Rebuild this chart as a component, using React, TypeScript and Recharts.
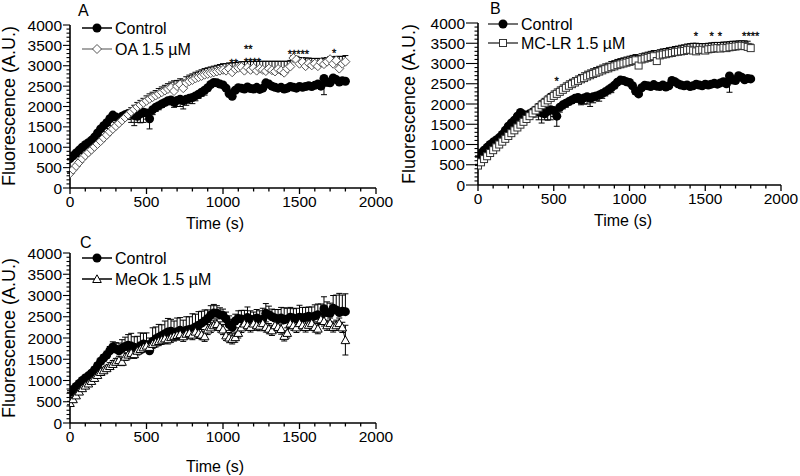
import React from "react";
import { ComposedChart, Line, Scatter, XAxis, YAxis, ErrorBar } from "recharts";

const FONT = "'Liberation Sans', Arial, Helvetica, sans-serif";

// sampling times (s)
const TIME = [
  0, 20, 40, 60, 80, 100, 120, 140, 160, 180,
  200, 220, 240, 260, 280, 300, 320, 340, 360, 380,
  400, 420, 440, 460, 480, 500, 520, 540, 560, 580,
  600, 620, 640, 660, 680, 700, 720, 740, 760, 780,
  800, 820, 840, 860, 880, 900, 920, 940, 960, 980,
  1000, 1020, 1040, 1060, 1080, 1100, 1120, 1140, 1160, 1180,
  1200, 1220, 1240, 1260, 1280, 1300, 1320, 1340, 1360, 1380,
  1400, 1420, 1440, 1460, 1480, 1500, 1520, 1540, 1560, 1580,
  1600, 1620, 1640, 1660, 1680, 1700, 1720, 1740, 1760, 1780,
  1800,
];

const CONTROL = [
  720, 790, 860, 930, 1000, 1060, 1110, 1170, 1250, 1350,
  1450, 1530, 1600, 1700, 1790, 1740, 1700, 1760, 1800, 1830,
  1810, 1780, 1760, 1820, 1860, 1840, 1700, 1920, 1980, 2020,
  2060, 2100, 2140, 2160, 2100, 2150, 2180, 2140, 2180, 2200,
  2220, 2260, 2300, 2350, 2400, 2460, 2540, 2590, 2580, 2550,
  2530, 2450, 2320, 2250, 2400, 2460, 2450, 2430, 2480, 2440,
  2430, 2470, 2420, 2450, 2580, 2550, 2500, 2470, 2450, 2470,
  2430, 2450, 2490, 2470, 2450, 2490, 2470, 2490, 2510, 2490,
  2520, 2550, 2500, 2690, 2600, 2580, 2700, 2660, 2600, 2630,
  2620,
];

const OA = [
  360, 450, 540, 630, 720, 800, 870, 940, 1010, 1080,
  1150, 1230, 1300, 1380, 1450, 1520, 1590, 1660, 1730, 1800,
  1870, 1930, 1990, 2040, 2090, 2140, 2190, 2230, 2270, 2310,
  2350, 2390, 2430, 2460, 2380, 2500, 2540, 2450, 2580, 2620,
  2650, 2690, 2720, 2750, 2780, 2800, 2820, 2840, 2860, 2880,
  2900, 2880, 2930, 2840, 2920, 2950, 2970, 2880, 2960, 2900,
  2950, 2880, 2930, 2900, 2870, 2930, 2890, 2860, 2920, 2880,
  2830, 2930, 2980, 3190, 3150, 3050, 3090, 2990, 3060, 3010,
  3050, 2990, 3080, 3040, 3100, 3160, 3050, 3130, 2930, 3050,
  3100,
];

const MCLR = [
  480, 560, 640, 710, 790, 860, 930, 1000, 1070, 1140,
  1210, 1280, 1350, 1420, 1490, 1560, 1630, 1700, 1770, 1840,
  1910, 1970, 2030, 2090, 2150, 2200, 2250, 2300, 2350, 2400,
  2450, 2490, 2530, 2570, 2610, 2640, 2680, 2710, 2740, 2770,
  2800, 2830, 2860, 2880, 2910, 2930, 2960, 2980, 3000, 3020,
  3040, 3060, 3080, 2950, 3100, 3120, 3140, 3160, 3180, 3060,
  3200, 3220, 3230, 3250, 3260, 3280, 3290, 3300, 3310, 3330,
  3340, 3320, 3300, 3330, 3340, 3320, 3350, 3360, 3370, 3380,
  3370, 3390, 3380, 3400, 3410, 3420, 3430, 3440, 3430, 3410,
  3380,
];

const MEOK = [
  470, 560, 650, 740, 820, 880, 930, 990, 1060, 1130,
  1200, 1240, 1290, 1340, 1390, 1440, 1480, 1440, 1560, 1610,
  1650, 1620, 1700, 1740, 1780, 1820, 1790, 1860, 1900, 1930,
  1960, 1990, 1970, 2020, 2050, 2070, 2090, 2040, 2100, 2120,
  2080, 2150, 2110, 2080, 2040, 2200, 2250, 2300, 2330, 2260,
  2200, 2060, 2010, 1980, 2020, 2120, 2250, 2340, 2300, 2260,
  2340, 2300, 2290, 2350, 2260, 2220, 2180, 2300, 2260, 2210,
  2050, 2120, 2340, 2300, 2250, 2350, 2300, 2260, 2310, 2350,
  2260, 2220, 2440, 2400, 2300, 2350, 2260, 2300, 2350, 2250,
  1950,
];

// SEM values
const CTRL_SEM_AB = [
  30, 30, 30, 40, 40, 40, 40, 50, 50, 50,
  50, 60, 60, 60, 60, 80, 80, 100, 120, 150,
  200, 250, 150, 220, 250, 150, 250, 120, 100, 100,
  80, 80, 100, 100, 120, 150, 180, 200, 150, 120,
  150, 120, 100, 100, 120, 80, 60, 60, 60, 60,
  60, 60, 80, 60, 60, 60, 60, 60, 60, 60,
  60, 60, 60, 60, 60, 60, 60, 60, 60, 60,
  60, 60, 60, 60, 60, 60, 60, 60, 60, 60,
  60, 60, 60, 400, 100, 60, 60, 60, 60, 60,
  60,
];

const CTRL_SEM_C = [
  40, 40, 50, 50, 50, 60, 60, 60, 70, 70,
  80, 80, 90, 100, 120, 150, 180, 200, 220, 250,
  300, 250, 280, 300, 250, 280, 300, 320, 280, 300,
  250, 300, 320, 280, 300, 320, 300, 280, 320, 300,
  350, 300, 320, 280, 260, 200, 220, 200, 180, 160,
  150, 160, 200, 180, 160, 180, 200, 220, 250, 200,
  180, 200, 220, 250, 230, 200, 180, 200, 220, 250,
  280, 250, 230, 220, 250, 280, 250, 230, 220, 240,
  260, 250, 300, 280, 250, 240, 300, 350, 450, 380,
  420,
];

const OA_SEM = [
  30, 40, 40, 50, 50, 50, 60, 60, 60, 70,
  70, 70, 80, 80, 80, 90, 90, 90, 100, 100,
  100, 100, 110, 110, 110, 120, 120, 120, 120, 130,
  130, 130, 130, 140, 250, 140, 140, 200, 150, 150,
  150, 150, 150, 150, 150, 150, 150, 150, 150, 150,
  150, 170, 140, 230, 160, 140, 130, 220, 150, 200,
  160, 230, 180, 210, 240, 180, 220, 250, 190, 230,
  280, 180, 150, 60, 80, 150, 110, 200, 130, 170,
  130, 190, 100, 150, 100, 60, 170, 100, 300, 180,
  150,
];

const MCLR_SEM = [
  30, 40, 40, 50, 50, 60, 60, 60, 70, 70,
  70, 80, 80, 80, 90, 90, 90, 100, 100, 100,
  100, 110, 110, 110, 110, 120, 120, 120, 120, 120,
  120, 120, 120, 120, 120, 130, 130, 130, 130, 130,
  130, 130, 130, 130, 140, 140, 140, 140, 140, 140,
  140, 140, 140, 250, 140, 140, 140, 140, 140, 250,
  140, 140, 140, 140, 140, 140, 140, 150, 150, 150,
  150, 180, 200, 160, 150, 170, 150, 150, 150, 140,
  150, 140, 150, 140, 140, 130, 130, 120, 130, 140,
  100,
];

const MEOK_SEM = [
  40, 40, 50, 50, 50, 60, 60, 60, 60, 60,
  70, 70, 70, 80, 80, 80, 90, 90, 90, 100,
  100, 100, 100, 100, 100, 110, 110, 110, 110, 110,
  110, 110, 110, 120, 120, 120, 120, 120, 120, 120,
  120, 120, 120, 120, 120, 120, 120, 120, 120, 120,
  120, 120, 120, 120, 120, 120, 120, 120, 120, 120,
  120, 120, 120, 120, 120, 120, 120, 120, 120, 120,
  120, 120, 120, 120, 120, 120, 120, 120, 120, 120,
  120, 120, 120, 120, 120, 120, 120, 120, 120, 120,
  350,
];

// significance marks
const STARS_A = [
  { t: 1070, v: 3090, mark: "**" },
  { t: 1165, v: 3440, mark: "**" },
  { t: 1193, v: 3125, mark: "****" },
  { t: 1493, v: 3305, mark: "*****" },
  { t: 1727, v: 3345, mark: "*" },
];
const STARS_B = [
  { t: 519, v: 2595, mark: "*" },
  { t: 1439, v: 3705, mark: "*" },
  { t: 1542, v: 3705, mark: "*" },
  { t: 1597, v: 3705, mark: "*" },
  { t: 1800, v: 3705, mark: "****" },
];

const X_LABELS = [0, 500, 1000, 1500, 2000];
const Y_LABELS = [0, 500, 1000, 1500, 2000, 2500, 3000, 3500, 4000];
const X_MINOR = Array.from({ length: 21 }, (_, i) => i * 100);
const Y_MINOR = Array.from({ length: 41 }, (_, i) => i * 100);

const rows = TIME.map((t, i) => ({
  t,
  ctrl: CONTROL[i],
  oa: OA[i],
  mclr: MCLR[i],
  meok: MEOK[i],
  ctrlDown: [CTRL_SEM_AB[i], 0],
  ctrlUp: [0, CTRL_SEM_C[i]],
  oaUp: [0, OA_SEM[i]],
  mclrUp: [0, MCLR_SEM[i]],
  meokErr: [MEOK_SEM[i], MEOK_SEM[i]],
}));

// markers
const circle = (cx: number, cy: number, k?: any) => (
  <circle key={k} cx={cx} cy={cy} r={4.5} fill="#000" />
);
const diamond = (cx: number, cy: number, k?: any) => (
  <polygon
    key={k}
    points={`${cx},${cy - 4.5} ${cx + 4.5},${cy} ${cx},${cy + 4.5} ${cx - 4.5},${cy}`}
    fill="#fff"
    stroke="#555"
    strokeWidth={1}
  />
);
const square = (cx: number, cy: number, k?: any) => (
  <rect key={k} x={cx - 3.5} y={cy - 3.5} width={7} height={7} fill="#fff" stroke="#333" strokeWidth={1} />
);
const triangle = (cx: number, cy: number, k?: any) => (
  <polygon
    key={k}
    points={`${cx},${cy - 4.2} ${cx + 4.3},${cy + 3.5} ${cx - 4.3},${cy + 3.5}`}
    fill="#fff"
    stroke="#000"
    strokeWidth={1}
  />
);

const asDot = (fn: any) => (p: any) => fn(p.cx, p.cy, `d${p.index}`);

// star text, tilted a hair so the browser uses grayscale smoothing
const starShape = (p: any) => (
  <text
    x={p.cx}
    y={p.cy + 5}
    transform={`rotate(0.01 ${p.cx} ${p.cy})`}
    textAnchor="middle"
    fontSize={11}
    fontFamily={FONT}
    fill="#000"
    stroke="#000"
    strokeWidth={0.3}
  >
    {p.payload.mark}
  </text>
);

const xTick = (p: any) => {
  const v = p.payload.value;
  const major = X_LABELS.includes(v);
  return (
    <g>
      <line x1={p.x} x2={p.x} y1={p.y} y2={p.y + (major ? 6 : 3.5)} stroke="#000" strokeWidth={1.3} />
      {major && (
        <text x={p.x} y={p.y + 19} textAnchor="middle" fontSize={15.5} fontFamily={FONT} fill="#000">
          {v}
        </text>
      )}
    </g>
  );
};

const makeYTick = (len: number) => (p: any) => {
  const v = p.payload.value;
  const major = Y_LABELS.includes(v);
  return (
    <g>
      <line x1={p.x} x2={p.x - (major ? len : 3.5)} y1={p.y} y2={p.y} stroke="#000" strokeWidth={1.1} />
      {major && (
        <text x={p.x - len - 1} y={p.y + 5.5} textAnchor="end" fontSize={15.5} fontFamily={FONT} fill="#000">
          {v}
        </text>
      )}
    </g>
  );
};

interface PanelProps {
  left: number;
  top: number;
  width: number;
  height: number;
  mTop: number;
  mRight: number;
  yWidth: number;
  xHeight: number;
  yTickLen: number;
  ctrlErr: string;
  treat: string;
  treatErr: string;
  treatStroke: string;
  treatMarker: any;
  stars?: { t: number; v: number; mark: string }[];
}

function Panel(p: PanelProps) {
  return (
    <div style={{ position: "absolute", left: p.left, top: p.top }}>
      <ComposedChart
        width={p.width}
        height={p.height}
        data={rows}
        margin={{ top: p.mTop, right: p.mRight, bottom: 0, left: 0 }}
      >
        <XAxis
          type="number"
          dataKey="t"
          domain={[0, 2000]}
          ticks={X_MINOR}
          interval={0}
          height={p.xHeight}
          tickSize={0}
          tickMargin={0}
          tickLine={false}
          axisLine={{ stroke: "#000", strokeWidth: 1.6 }}
          tick={xTick}
          allowDataOverflow
        />
        <YAxis
          type="number"
          domain={[0, 4000]}
          ticks={Y_MINOR}
          interval={0}
          width={p.yWidth}
          tickSize={0}
          tickMargin={0}
          tickLine={false}
          axisLine={{ stroke: "#000", strokeWidth: 1.6 }}
          tick={makeYTick(p.yTickLen)}
          allowDataOverflow
        />
        <Line
          dataKey="ctrl"
          stroke="#000"
          strokeWidth={1}
          dot={asDot(circle)}
          activeDot={false}
          isAnimationActive={false}
        >
          <ErrorBar dataKey={p.ctrlErr} direction="y" width={3} stroke="#000" strokeWidth={1} />
        </Line>
        <Line
          dataKey={p.treat}
          stroke={p.treatStroke}
          strokeWidth={1}
          dot={asDot(p.treatMarker)}
          activeDot={false}
          isAnimationActive={false}
        >
          <ErrorBar dataKey={p.treatErr} direction="y" width={3} stroke="#000" strokeWidth={1} />
        </Line>
        {p.stars && (
          <Scatter
            data={p.stars}
            dataKey="v"
            fill="#000"
            shape={starShape}
            isAnimationActive={false}
          />
        )}
      </ComposedChart>
    </div>
  );
}

function LegendRow({ x, y, stroke, marker, label }: any) {
  return (
    <g>
      <line x1={x} x2={x + 30} y1={y} y2={y} stroke={stroke} strokeWidth={1.5} />
      {marker(x + 15, y)}
      <text x={x + 33} y={y + 6} fontSize={16} fontFamily={FONT} fill="#000">
        {label}
      </text>
    </g>
  );
}

export default function App() {
  const txt = { fontSize: 16, fontFamily: FONT, fill: "#000" };
  return (
    <div
      style={{
        position: "absolute",
        left: 0,
        top: 0,
        width: 800,
        height: 476,
        background: "#fff",
        overflow: "hidden",
      }}
    >
      <Panel
        left={0}
        top={0}
        width={400}
        height={240}
        mTop={25}
        mRight={24}
        yWidth={70}
        xHeight={52}
        yTickLen={7}
        ctrlErr="ctrlDown"
        treat="oa"
        treatErr="oaUp"
        treatStroke="#888"
        treatMarker={diamond}
        stars={STARS_A}
      />
      <Panel
        left={400}
        top={0}
        width={400}
        height={240}
        mTop={23}
        mRight={19}
        yWidth={78}
        xHeight={55}
        yTickLen={12}
        ctrlErr="ctrlDown"
        treat="mclr"
        treatErr="mclrUp"
        treatStroke="#444"
        treatMarker={square}
        stars={STARS_B}
      />
      <Panel
        left={0}
        top={230}
        width={400}
        height={246}
        mTop={23}
        mRight={24}
        yWidth={70}
        xHeight={53}
        yTickLen={7}
        ctrlErr="ctrlUp"
        treat="meok"
        treatErr="meokErr"
        treatStroke="#000"
        treatMarker={triangle}
      />
      <svg
        width={800}
        height={476}
        style={{ position: "absolute", left: 0, top: 0, pointerEvents: "none" }}
      >
        <text x={78} y={16} {...txt}>A</text>
        <text x={490} y={14} {...txt}>B</text>
        <text x={80} y={248} {...txt}>C</text>

        <LegendRow x={82} y={28} stroke="#000" marker={circle} label="Control" />
        <LegendRow x={82} y={49} stroke="#888" marker={diamond} label="OA 1.5 µM" />
        <LegendRow x={488} y={24} stroke="#444" marker={circle} label="Control" />
        <LegendRow x={488} y={43} stroke="#444" marker={square} label="MC-LR 1.5 µM" />
        <LegendRow x={82} y={258} stroke="#000" marker={circle} label="Control" />
        <LegendRow x={82} y={279} stroke="#000" marker={triangle} label="MeOk 1.5 µM" />

        <text transform="translate(15,106) rotate(-90)" textAnchor="middle" fontSize={18} fontFamily={FONT}>
          Fluorescence (A.U.)
        </text>
        <text transform="translate(415,104) rotate(-90)" textAnchor="middle" fontSize={18} fontFamily={FONT}>
          Fluorescence (A.U.)
        </text>
        <text transform="translate(15,338) rotate(-90)" textAnchor="middle" fontSize={18} fontFamily={FONT}>
          Fluorescence (A.U.)
        </text>

        <text x={215} y={229} textAnchor="middle" {...txt}>Time (s)</text>
        <text x={623} y={226} textAnchor="middle" {...txt}>Time (s)</text>
        <text x={215} y={472} textAnchor="middle" {...txt}>Time (s)</text>
      </svg>
    </div>
  );
}
